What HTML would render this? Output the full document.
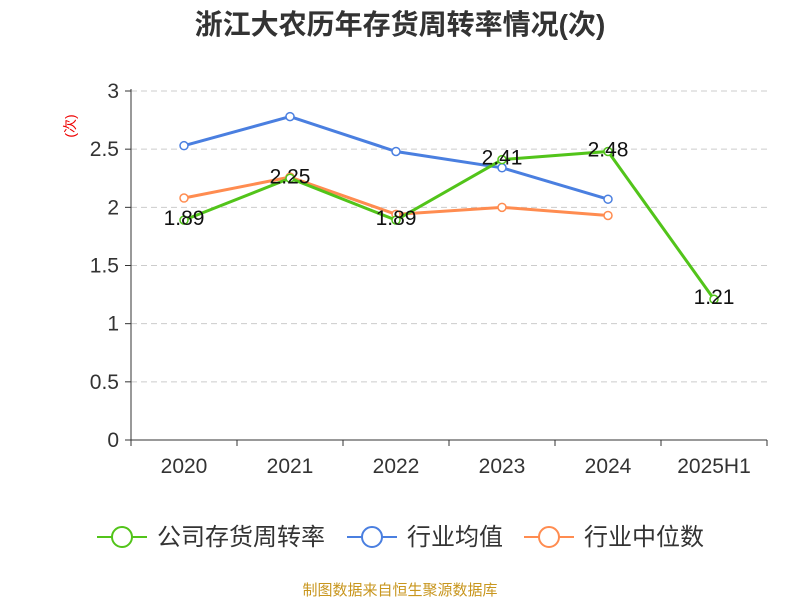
<!DOCTYPE html>
<html><head><meta charset="utf-8"><style>
body{margin:0;background:#fff;font-family:"Liberation Sans","Noto Sans CJK SC",sans-serif}
</style></head><body>
<svg id="c" width="800" height="600" xmlns="http://www.w3.org/2000/svg" font-family="Liberation Sans, Noto Sans CJK SC, sans-serif">
<text x="400" y="34" text-anchor="middle" font-size="28" font-weight="bold" fill="#333">浙江大农历年存货周转率情况(次)</text>
<text x="0" y="0" transform="translate(75,126) rotate(-90)" text-anchor="middle" font-size="14" fill="#e00">(次)</text>
<g id="grid"></g><g id="axes"></g><g id="series"></g>
<g>
<g><line x1="97" y1="537" x2="147" y2="537" stroke="#52c41a" stroke-width="2"/><circle cx="122" cy="537" r="10" fill="#fff" stroke="#52c41a" stroke-width="2"/><text x="157" y="545" font-size="24" fill="#333">公司存货周转率</text></g>
<g><line x1="347" y1="537" x2="397" y2="537" stroke="#4a7fe0" stroke-width="2"/><circle cx="372" cy="537" r="10" fill="#fff" stroke="#4a7fe0" stroke-width="2"/><text x="407" y="545" font-size="24" fill="#333">行业均值</text></g>
<g><line x1="524" y1="537" x2="574" y2="537" stroke="#ff8c50" stroke-width="2"/><circle cx="549" cy="537" r="10" fill="#fff" stroke="#ff8c50" stroke-width="2"/><text x="584" y="545" font-size="24" fill="#333">行业中位数</text></g>
</g>
<text x="400" y="595" text-anchor="middle" font-size="15" fill="#c8961e">制图数据来自恒生聚源数据库</text>
</svg>
<script>
const categories=["2020","2021","2022","2023","2024","2025H1"];
const companyVals=[1.89,2.25,1.89,2.41,2.48,1.21];
const meanVals=[2.53,2.78,2.48,2.34,2.07,null];
const medianVals=[2.08,2.26,1.94,2.00,1.93,null];
const yTicks=[0,0.5,1,1.5,2,2.5,3];
const NS="http://www.w3.org/2000/svg";
const L=131,R=767,T=91,B=440,yMax=3;
const bw=(R-L)/categories.length;
const x=i=>L+bw*(i+0.5);
const y=v=>B-(v/yMax)*(B-T);
function mk(tag,at,parent){const e=document.createElementNS(NS,tag);for(const k in at)e.setAttribute(k,at[k]);parent.appendChild(e);return e;}
const grid=document.getElementById('grid'),axes=document.getElementById('axes'),ser=document.getElementById('series');
yTicks.forEach(t=>{
 if(t>0){const g=mk('line',{x1:L,x2:R,y1:y(t),y2:y(t),stroke:'#ccc','stroke-dasharray':'6,4'},grid);
 
 }
 const tk=mk('line',{x1:L-6,x2:L,y1:y(t),y2:y(t),stroke:'#333'},axes);
 
 
 const lb=mk('text',{x:L-12,y:y(t)+7,'text-anchor':'end','font-size':21,fill:'#333'},axes);lb.textContent=t;
 
 
});
const ya=mk('line',{x1:L,x2:L,y1:T-2,y2:B,stroke:'#333'},axes);


const xa=mk('line',{x1:L,x2:R,y1:B,y2:B,stroke:'#333'},axes);


for(let i=0;i<=categories.length;i++){const t=mk('line',{x1:L+bw*i,x2:L+bw*i,y1:B,y2:B+6,stroke:'#333'},axes);
 
 }
categories.forEach((c,i)=>{const t=mk('text',{x:x(i),y:B+33,'text-anchor':'middle','font-size':21,fill:'#333'},axes);t.textContent=c;
 
 });
function line(vals,color,name,labels){
 const g=mk('g',{},ser);
 
 
 const pts=vals.map((v,i)=>v==null?null:[x(i),y(v)]).filter(p=>p);
 mk('polyline',{points:pts.map(p=>p.join(',')).join(' '),fill:'none',stroke:color,'stroke-width':3},g);
 vals.forEach((v,i)=>{if(v==null)return;
  const c=mk('circle',{cx:x(i),cy:y(v),r:4,fill:'#fff',stroke:color,'stroke-width':1.5},g);
  
  
  if(labels){const t=mk('text',{x:x(i),y:y(v)+5,'text-anchor':'middle','font-size':21,fill:'#111'},g);t.textContent=v.toFixed(2);
  
  }
 });
}
line(meanVals,'#4a7fe0','industry-mean-line',false);
line(medianVals,'#ff8c50','industry-median-line',false);
line(companyVals,'#52c41a','company-turnover-line',true);
</script>
</body></html>
